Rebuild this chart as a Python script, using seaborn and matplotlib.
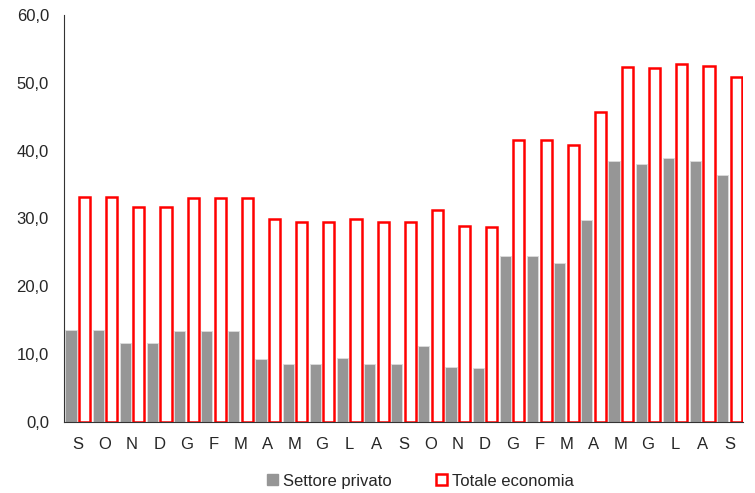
import pandas as pd
import matplotlib
matplotlib.use("Agg")
import matplotlib.pyplot as plt
from matplotlib.patches import Patch
import seaborn as sns

# mesi (da settembre a settembre dell'anno successivo +1)
mesi = ["S", "O", "N", "D", "G", "F", "M", "A", "M", "G", "L", "A", "S",
        "O", "N", "D", "G", "F", "M", "A", "M", "G", "L", "A", "S"]

settore_privato = [13.6, 13.6, 11.6, 11.6, 13.4, 13.4, 13.4, 9.3, 8.6, 8.6, 9.4, 8.6, 8.6,
                   11.2, 8.1, 7.9, 24.5, 24.5, 23.4, 29.8, 38.4, 38.0, 38.9, 38.4, 36.4]

totale_economia = [33.2, 33.2, 31.7, 31.7, 33.0, 33.0, 33.0, 29.9, 29.4, 29.4, 29.9, 29.4, 29.4,
                   31.3, 28.9, 28.7, 41.6, 41.6, 40.8, 45.7, 52.3, 52.1, 52.7, 52.4, 50.8]

serie = ["Settore privato", "Totale economia"]
y_ticks = [0, 10, 20, 30, 40, 50, 60]

sns.set_style("white")
plt.rcParams['font.family'] = ['Liberation Sans', 'DejaVu Sans']
fs = 12

# tabella in formato lungo per seaborn
n = len(mesi)
df = pd.DataFrame({
    "pos": list(range(n)) * 2,
    "valore": settore_privato + totale_economia,
    "serie": [serie[0]] * n + [serie[1]] * n,
})

fig = plt.figure(figsize=(7.55, 4.93), dpi=100)
ax = fig.add_axes([0.085, 0.144, 0.899, 0.826])

sns.barplot(data=df, x="pos", y="valore", hue="serie", hue_order=serie,
            palette={serie[0]: "#969696", serie[1]: "white"},
            width=1.0, gap=0.18, ax=ax, legend=False, errorbar=None)

for p in ax.containers[0]:
    p.set_edgecolor("#dcdcdc")
    p.set_linewidth(0.6)
for p in ax.containers[1]:
    p.set_edgecolor("#ff0000")
    p.set_linewidth(1.8)

ax.set_xlim(-0.5, n - 0.5)
ax.set_ylim(0, 60)
ax.set_yticks(y_ticks)
ax.set_yticklabels([f"{v:.1f}".replace(".", ",") for v in y_ticks], fontsize=fs)

# tacche ai confini delle categorie, etichette al centro
ax.set_xticks([i - 0.5 for i in range(n + 1)])
ax.set_xticklabels([""] * (n + 1))
ax.set_xticks(range(n), minor=True)
ax.set_xticklabels(mesi, minor=True, fontsize=fs)
ax.tick_params(axis="x", which="major", direction="out", length=5, width=0.8, color="#333333")
ax.tick_params(axis="x", which="minor", length=0, pad=11)
ax.tick_params(axis="y", direction="out", length=4, width=0.8, color="#333333", pad=7)
ax.set_xlabel("")
ax.set_ylabel("")

sns.despine(ax=ax, top=True, right=True)
ax.spines["left"].set_color("#333333")
ax.spines["bottom"].set_color("#333333")
ax.spines["left"].set_linewidth(0.8)
ax.spines["bottom"].set_linewidth(0.8)

handles = [Patch(facecolor="#969696", edgecolor="#969696"),
           Patch(facecolor="white", edgecolor="#ff0000", linewidth=1.8)]
fig.legend(handles, serie, loc="center", bbox_to_anchor=(0.557, 0.024), ncol=2,
           frameon=False, fontsize=fs, handlelength=0.65, handleheight=0.65,
           handletextpad=0.3, columnspacing=2.7, borderaxespad=0, borderpad=0)

fig.savefig("out.png", dpi=100)
